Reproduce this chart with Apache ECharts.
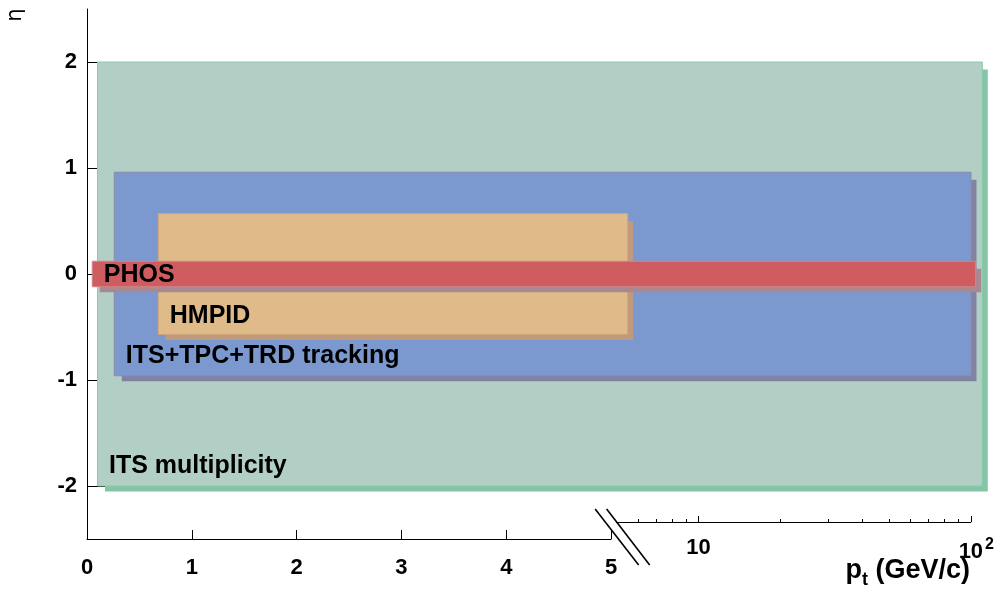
<!DOCTYPE html>
<html>
<head>
<meta charset="utf-8">
<script src="https://cdn.jsdelivr.net/npm/echarts@6/dist/echarts.min.js"></script>
<style>
  html, body { margin: 0; padding: 0; background: #ffffff; }
  #chart { width: 997px; height: 589px; }
</style>
</head>
<body>
<div id="chart"></div>
<script>
// Acceptance of the central-barrel detectors in (p_t, eta)
const regionNames = ['ITS multiplicity', 'ITS+TPC+TRD tracking', 'HMPID', 'PHOS'];
const ptMin  = [0.1, 0.26, 0.68, 0.05];
const ptMax  = [110, 100, 5.5, 104];
const etaMin = [-2, -0.96, -0.57, -0.12];
const etaMax = [2, 0.96, 0.57, 0.12];
const labelEta = [-1.8, -0.76, -0.38, 0];

// Axis ticks
const etaTicks = [-2, -1, 0, 1, 2];
const logMajorTicks = [10, 100];
const logMinorTicks = [6, 7, 8, 9, 20, 30, 40, 50, 60, 70, 80, 90];

// Region colours: fill, outline, drop shadow
const fills   = ['#b2cfc5', '#7b99cf', '#dfbb8a', '#cf5c5e'];
const borders = ['#8ccaa9', '#8b8bab', '#cfa57c', '#cf868c'];
const shadows = ['#85c5a5', '#8282a2', '#bf9a7c', '#a9888f'];

// Broken p_t axis: linear up to 5 GeV/c, logarithmic above
const LIN_MAX = 5, LOG_MAX = 100;
const GAP = 0.05;     // width of the break, in linear GeV/c units
const DECADE = 2.6;   // width of one log decade, in linear GeV/c units
function brokenX(pt) {
  return pt <= LIN_MAX ? pt : LIN_MAX + GAP + Math.log10(pt / LIN_MAX) * DECADE;
}
const X_END = brokenX(LOG_MAX);

const PLOT = { left: 87, top: 9, width: 884, height: 530 };
const pxPerUnit = PLOT.width / X_END;
const linWidth = LIN_MAX * pxPerUnit;
const logLeft = PLOT.left + (LIN_MAX + GAP) * pxPerUnit;
const logWidth = PLOT.left + PLOT.width - logLeft;
const LOG_AXIS_RAISE = 17;

const FONT = '"Liberation Sans", Arial, Helvetica, sans-serif';
const tickFont = { color: '#000', fontFamily: FONT, fontWeight: 'bold', fontSize: 22 };
const axisLine = { show: true, onZero: false, lineStyle: { color: '#000', width: 1 } };

// Drop shadow geometry and label placement of the boxes (pixels)
const SH_IN = 7.5, SH_OUT = 5.5, LABEL_PAD = 11.5, LABEL_DY = 1.5;

const chart = echarts.init(document.getElementById('chart'), null, { renderer: 'canvas' });

const breakX = PLOT.left + linWidth;
const axisY = PLOT.top + PLOT.height;

chart.setOption({
  animation: false,
  backgroundColor: '#ffffff',
  grid: [
    { left: PLOT.left, top: PLOT.top, width: PLOT.width, height: PLOT.height },
    { left: PLOT.left, top: PLOT.top, width: linWidth, height: PLOT.height },
    { left: logLeft, top: PLOT.top, width: logWidth, height: PLOT.height - LOG_AXIS_RAISE }
  ],
  xAxis: [
    { gridIndex: 0, type: 'value', min: 0, max: X_END, show: false },
    {
      gridIndex: 1, type: 'value', position: 'bottom', min: 0, max: LIN_MAX, interval: 1,
      axisLine: axisLine,
      axisTick: { show: true, inside: true, length: 9, lineStyle: { color: '#000' } },
      axisLabel: Object.assign({ margin: 18 }, tickFont),
      splitLine: { show: false }
    },
    {
      gridIndex: 2, type: 'log', position: 'bottom', logBase: 10, min: LIN_MAX, max: LOG_MAX,
      axisLine: axisLine,
      axisTick: { show: true, inside: true, length: 6, customValues: logMajorTicks, lineStyle: { color: '#000' } },
      axisLabel: Object.assign({
        margin: 15,
        customValues: logMajorTicks,
        formatter: function (v) { return v >= 100 ? '{pad|}{m|10}{sup|2}' : '{m|10}'; },
        rich: {
          m: { fontFamily: FONT, fontWeight: 'bold', fontSize: 22, color: '#000' },
          sup: { fontFamily: FONT, fontWeight: 'bold', fontSize: 16, color: '#000', padding: [0, 0, 13, 2] },
          pad: { width: 11 }
        }
      }, tickFont),
      splitLine: { show: false }
    },
    {
      gridIndex: 2, type: 'log', position: 'bottom', logBase: 10, min: LIN_MAX, max: LOG_MAX,
      axisLine: { show: false, onZero: false },
      axisTick: { show: true, inside: true, length: 3, customValues: logMinorTicks, lineStyle: { color: '#000' } },
      axisLabel: { show: false },
      splitLine: { show: false }
    }
  ],
  yAxis: [
    {
      gridIndex: 0, type: 'value', position: 'left', min: -2.5, max: 2.5,
      axisLine: axisLine,
      axisTick: { show: true, inside: true, length: 25, customValues: etaTicks, lineStyle: { color: '#000' } },
      axisLabel: Object.assign({ margin: 10, customValues: etaTicks }, tickFont),
      splitLine: { show: false }
    },
    { gridIndex: 1, type: 'value', min: -2.5, max: 2.5, show: false },
    { gridIndex: 2, type: 'value', min: -2.5, max: 2.5, show: false }
  ],
  series: [
    {
      type: 'custom',
      xAxisIndex: 0,
      yAxisIndex: 0,
      clip: false,
      z: 3,
      data: regionNames.map(function (n, i) {
        return [ptMin[i], ptMax[i], etaMin[i], etaMax[i], labelEta[i], i];
      }),
      renderItem: function (params, api) {
        const i = api.value(5);
        const p0 = api.coord([brokenX(api.value(0)), api.value(3)]);
        const p1 = api.coord([brokenX(api.value(1)), api.value(2)]);
        const lab = api.coord([brokenX(api.value(0)), api.value(4)]);
        const x = p0[0], y = p0[1], w = p1[0] - p0[0], h = p1[1] - p0[1];
        return {
          type: 'group',
          children: [
            {
              type: 'rect',
              shape: { x: x + SH_IN, y: y + SH_IN, width: w - SH_IN + SH_OUT, height: h - SH_IN + SH_OUT },
              style: { fill: shadows[i] }
            },
            {
              type: 'rect',
              shape: { x: x, y: y, width: w, height: h },
              style: { fill: fills[i], stroke: borders[i], lineWidth: 1 }
            },
            {
              type: 'text',
              x: x + LABEL_PAD,
              y: lab[1] + LABEL_DY,
              style: {
                text: regionNames[i],
                fill: '#000',
                fontFamily: FONT,
                fontWeight: 'bold',
                fontSize: 25,
                align: 'left',
                verticalAlign: 'middle'
              }
            }
          ]
        };
      }
    }
  ],
  graphic: [
    // axis break marks
    {
      type: 'line', z: 10,
      shape: { x1: breakX - 16, y1: axisY - 30, x2: breakX + 27.5, y2: axisY + 26 },
      style: { stroke: '#000', lineWidth: 1.6 }
    },
    {
      type: 'line', z: 10,
      shape: { x1: breakX - 4.5, y1: axisY - 30, x2: breakX + 38.5, y2: axisY + 26 },
      style: { stroke: '#000', lineWidth: 1.6 }
    },
    // y-axis title
    {
      type: 'text', z: 10,
      x: 16, y: 15, rotation: Math.PI / 2,
      style: {
        text: 'η', fill: '#000', fontFamily: '"DejaVu Sans", sans-serif', fontSize: 21,
        align: 'center', verticalAlign: 'middle'
      }
    },
    // x-axis title
    {
      type: 'text', z: 10,
      x: 970, y: 571,
      style: {
        text: '{a|p}{t|t}{a| (GeV/c)}',
        align: 'right', verticalAlign: 'middle',
        rich: {
          a: { fontFamily: FONT, fontWeight: 'bold', fontSize: 27, fill: '#000' },
          t: { fontFamily: FONT, fontWeight: 'bold', fontSize: 18, fill: '#000', padding: [18, 0, 0, 0] }
        }
      }
    }
  ]
});
</script>
</body>
</html>
